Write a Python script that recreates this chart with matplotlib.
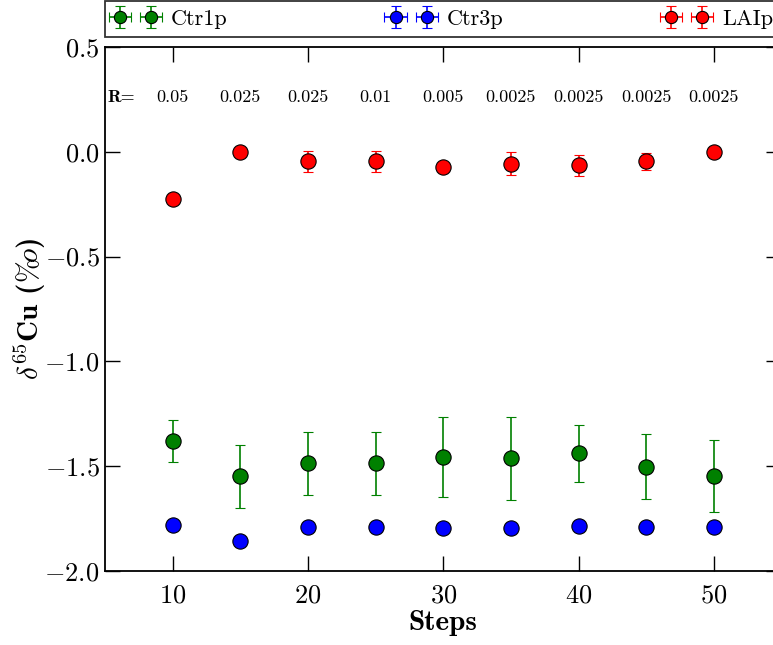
import matplotlib
matplotlib.use("Agg")
from matplotlib import pyplot as plt

# Settings used for every sample.
steps = [10, 15, 20, 25, 30, 35, 40, 45, 50]
r_values = ["0.05", "0.025", "0.025", "0.01", "0.005", "0.0025", "0.0025", "0.0025", "0.0025"]

# Ctr1p
ctr1p = [-1.38, -1.548, -1.486, -1.486, -1.455, -1.463, -1.439, -1.502, -1.547]
ctr1p_err = [0.10, 0.15, 0.15, 0.15, 0.19, 0.20, 0.135, 0.155, 0.17]

# Ctr3p
ctr3p = [-1.779, -1.859, -1.79, -1.79, -1.793, -1.793, -1.784, -1.79, -1.79]
ctr3p_err = [0.01, 0.01, 0.01, 0.01, 0.01, 0.01, 0.01, 0.01, 0.01]

# LAIp
laip = [-0.227, 0.0, -0.045, -0.045, -0.073, -0.058, -0.064, -0.045, 0.0]
laip_err = [0.01, 0.005, 0.05, 0.05, 0.01, 0.055, 0.05, 0.04, 0.005]

series = [("Ctr1p", ctr1p, ctr1p_err, "green"),
          ("Ctr3p", ctr3p, ctr3p_err, "blue"),
          ("LAIp", laip, laip_err, "red")]

plt.rcParams["font.family"] = "serif"
plt.rcParams["font.serif"] = ["cmr10", "DejaVu Serif"]
plt.rcParams["mathtext.fontset"] = "cm"
plt.rcParams["axes.formatter.use_mathtext"] = True

fig = plt.figure(figsize=(7.73, 6.45), dpi=100)

# Axes reach past the right edge of the picture, like the original.
left = 105 / 773.0
bottom = 1 - 571 / 645.0
width = (781.5 - 105) / 773.0
height = (571 - 47) / 645.0
ax = fig.add_axes([left, bottom, width, height])

# Plot each series with error bars.
for name, values, errs, color in series:
	ax.errorbar(steps, values, yerr=errs, xerr=0, fmt="o", color=color,
				markerfacecolor=color, markeredgecolor="black", markeredgewidth=0.8,
				markersize=11, ecolor=color, elinewidth=1.2, capsize=3.5,
				capthick=1.2, label=name)

# R values above each step.
ax.text(5.2, 0.26, "R=", fontsize=13, fontfamily="cmb10", ha="left", va="center")
for s, r in zip(steps, r_values):
	ax.text(s, 0.26, r, fontsize=13, ha="center", va="center")

ax.set_xlim(5, 55)
ax.set_ylim(-2.0, 0.5)
ax.set_xticks([10, 20, 30, 40, 50])
ax.set_yticks([-2.0, -1.5, -1.0, -0.5, 0.0, 0.5])
ax.tick_params(direction="in", length=11, width=1, labelsize=19,
			   top=True, right=True)
ax.tick_params(axis="x", pad=9)
ax.tick_params(axis="y", pad=4)
for sp in ax.spines.values():
	sp.set_linewidth(1.3)

ax.set_xlabel("Steps", fontsize=21, fontfamily="cmb10", labelpad=2)
ax.set_ylabel(r"$\delta^{65}$Cu ($\it{\%\!o}$)", fontsize=21,
			  fontfamily=["cmb10", "DejaVu Serif"], labelpad=-3)

# Legend box along the top of the figure.
leg = fig.legend(loc="upper left", bbox_to_anchor=(left, 0, width, 1 - 1 / 645.0),
				 mode="expand", ncol=3, numpoints=2, fancybox=False, borderaxespad=0,
				 fontsize=16, markerscale=0.8, handletextpad=0.6, handlelength=2.0,
				 borderpad=0.37)
leg.get_frame().set_edgecolor("black")
leg.get_frame().set_linewidth(1.3)

fig.savefig("out.png", dpi=100)
